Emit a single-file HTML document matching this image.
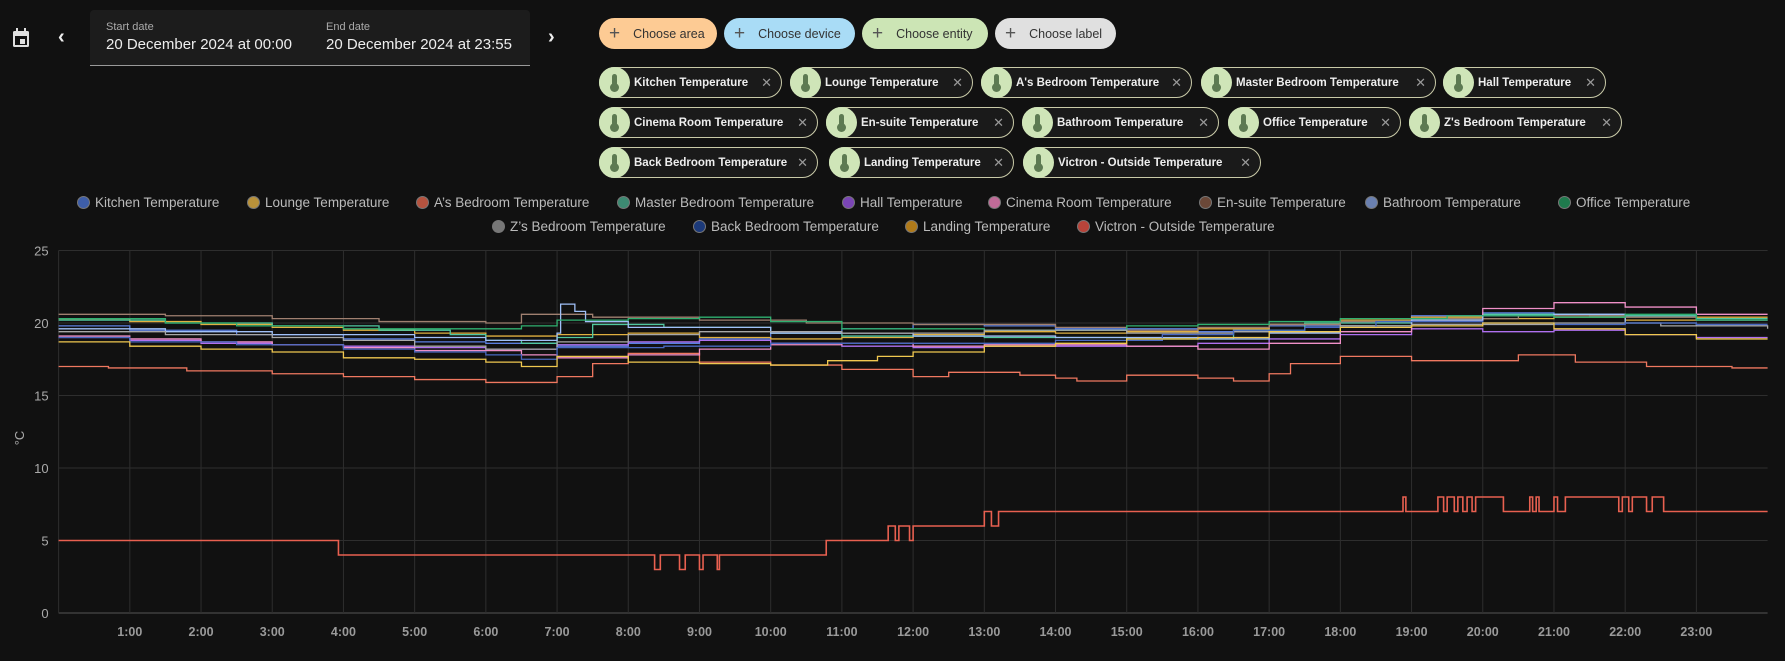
<!DOCTYPE html>
<html><head><meta charset="utf-8">
<style>
body{margin:0;width:1785px;height:661px;background:#111111;overflow:hidden;font-family:"Liberation Sans",sans-serif;position:relative;color:#e1e1e1}
.abs{position:absolute}
.btn{position:absolute;top:18px;height:31px;border-radius:16px;font-size:12.5px;color:#333;display:flex;align-items:center;box-sizing:border-box;padding-left:10px}
.btn .plus{font-size:19px;color:#555;margin-right:13px;font-weight:300}
.chip{position:absolute;height:31px;border:1px solid #c9caa8;border-radius:16px;box-sizing:border-box;background:#1a1a1a;display:flex;align-items:center;font-size:11.5px;font-weight:bold;color:#eee;white-space:nowrap}
.chip .ic{width:31px;height:31px;border-radius:50%;background:#cfe5b8;margin-left:-1px;margin-right:4px;position:relative;flex:none}
.chip .ic:before{content:"";position:absolute;left:13px;top:7px;width:5px;height:12px;background:#5d7a52;border-radius:3px}
.chip .ic:after{content:"";position:absolute;left:11px;top:16px;width:9px;height:9px;background:#5d7a52;border-radius:50%}
.chip .x{position:absolute;right:9px;color:#999;font-weight:normal;font-size:13px}
.leg{position:absolute;font-size:13.5px;color:#bbb;white-space:nowrap;display:flex;align-items:center}
.leg i{display:inline-block;width:13px;height:13px;border-radius:50%;margin-right:5px;border:1px solid #777;box-sizing:border-box}
</style></head><body>
<svg class="abs" style="left:11px;top:27px" width="20" height="22" viewBox="0 0 20 22"><rect x="2" y="4" width="16" height="16" rx="1.5" fill="#e0e0e0"/><rect x="4" y="9" width="12" height="9" fill="#111"/><rect x="9" y="12" width="5" height="5" fill="#e0e0e0"/><rect x="5" y="1" width="2" height="4" fill="#e0e0e0"/><rect x="13" y="1" width="2" height="4" fill="#e0e0e0"/></svg>
<div class="abs" style="left:58px;top:26px;font-size:20px;color:#eee;font-weight:bold">‹</div>
<div class="abs" style="left:90px;top:10px;width:440px;height:55px;background:#1c1c1c;border-bottom:1px solid #9a9a9a;border-radius:4px 4px 0 0"></div>
<div class="abs" style="left:106px;top:21px;font-size:11px;color:#aaa">Start date</div>
<div class="abs" style="left:106px;top:36px;font-size:15px;color:#eee">20 December 2024 at 00:00</div>
<div class="abs" style="left:326px;top:21px;font-size:11px;color:#aaa">End date</div>
<div class="abs" style="left:326px;top:36px;font-size:15px;color:#eee">20 December 2024 at 23:55</div>
<div class="abs" style="left:548px;top:26px;font-size:20px;color:#eee;font-weight:bold">›</div>

<div class="btn" style="left:599px;width:118px;background:#fdcb94"><span class="plus">+</span>Choose area</div>
<div class="btn" style="left:724px;width:131px;background:#a9dcf6"><span class="plus">+</span>Choose device</div>
<div class="btn" style="left:862px;width:126px;background:#cce5b5"><span class="plus">+</span>Choose entity</div>
<div class="btn" style="left:995px;width:121px;background:#e0e0e0"><span class="plus">+</span>Choose label</div>

<div class="chip" style="left:599px;top:67px;width:183px"><span class="ic"></span>Kitchen Temperature<span class="x">✕</span></div>
<div class="chip" style="left:790px;top:67px;width:183px"><span class="ic"></span>Lounge Temperature<span class="x">✕</span></div>
<div class="chip" style="left:981px;top:67px;width:211px"><span class="ic"></span>A's Bedroom Temperature<span class="x">✕</span></div>
<div class="chip" style="left:1201px;top:67px;width:235px"><span class="ic"></span>Master Bedroom Temperature<span class="x">✕</span></div>
<div class="chip" style="left:1443px;top:67px;width:163px"><span class="ic"></span>Hall Temperature<span class="x">✕</span></div>
<div class="chip" style="left:599px;top:107px;width:219px"><span class="ic"></span>Cinema Room Temperature<span class="x">✕</span></div>
<div class="chip" style="left:826px;top:107px;width:188px"><span class="ic"></span>En-suite Temperature<span class="x">✕</span></div>
<div class="chip" style="left:1022px;top:107px;width:197px"><span class="ic"></span>Bathroom Temperature<span class="x">✕</span></div>
<div class="chip" style="left:1228px;top:107px;width:173px"><span class="ic"></span>Office Temperature<span class="x">✕</span></div>
<div class="chip" style="left:1409px;top:107px;width:213px"><span class="ic"></span>Z's Bedroom Temperature<span class="x">✕</span></div>
<div class="chip" style="left:599px;top:147px;width:219px"><span class="ic"></span>Back Bedroom Temperature<span class="x">✕</span></div>
<div class="chip" style="left:829px;top:147px;width:185px"><span class="ic"></span>Landing Temperature<span class="x">✕</span></div>
<div class="chip" style="left:1023px;top:147px;width:238px"><span class="ic"></span>Victron - Outside Temperature<span class="x">✕</span></div>

<div id="legend"></div>
<svg id="chart" class="abs" style="left:0;top:0" width="1785" height="661"></svg>

<script>
const names=["Kitchen Temperature","Lounge Temperature","A’s Bedroom Temperature","Master Bedroom Temperature","Hall Temperature","Cinema Room Temperature","En-suite Temperature","Bathroom Temperature","Office Temperature","Z’s Bedroom Temperature","Back Bedroom Temperature","Landing Temperature","Victron - Outside Temperature"];
const legendColors=["#3e5ea8","#b8913a","#b5533f","#3d8a72","#7a45b5","#c06b98","#6b4838","#6a80b0","#1f7a4d","#777777","#1c3a7a","#b07a1a","#b8443a"];
const lineColors=["#5b7fe0","#e0b040","#f07860","#50c8a0","#b070f0","#f090c8","#a08070","#a0c0f8","#30b070","#a8a8a8","#4868c0","#f0c850","#e86050"];
const legendX=[77,247,416,617,842,988,1199,1365,1558,492,693,905,1077];
const legendRow=[0,0,0,0,0,0,0,0,0,1,1,1,1];

const kitchenT=[0,1,2.5,4,5,6,7,8,9,10,11,12,13,14,15,16,17,18,19,20,21,22,23,24];
const kitchenV=[19.8,19.5,19.2,18.9,18.7,18.6,18.4,18.6,18.9,19.3,19.6,19.9,19.8,19.6,19.6,19.4,19.8,20.1,20.5,20.7,20.6,20.5,20.2,20.2];
const loungeT=[0,1,2,3,4,5,6,7,8,9,10,11,12,13,14,15,16,17,18,19,20,21,22,23,24];
const loungeV=[20.3,20.1,19.9,19.7,19.5,19.3,19.1,19.2,19.3,19.0,18.9,19.0,19.2,19.4,19.3,19.4,19.6,19.9,20.2,20.4,20.3,20.4,20.2,20.4,20.4];
const asT=[0,0.7,1.8,3,4,5,6,7,7.5,8,9,10,11,12,12.5,13.5,14,14.3,15,16,16.5,17,17.3,18,19,20.5,21.3,22.3,23.5,24];
const asV=[17.0,16.9,16.7,16.5,16.3,16.1,15.9,16.3,17.2,17.9,17.3,17.1,16.8,16.3,16.6,16.4,16.2,16.0,16.4,16.2,16.0,16.5,17.2,17.7,17.4,17.8,17.3,17.0,16.9,16.9];
const masterT=[0,1.5,3,4.5,5.5,6,6.5,7,7.5,8.5,10,11,13,15,16.5,17.5,19,20,21.5,23,24];
const masterV=[20.2,20.0,19.8,19.5,19.2,18.8,18.6,19.0,19.9,19.7,19.3,19.1,19.0,18.9,19.5,20.0,20.3,20.6,20.5,20.3,20.3];
const hallT=[0,1,2,3,4,5,6,7,8,9,10,11,12,13,15,16,17,18,19,20,21,22,23,24];
const hallV=[19.0,18.8,18.6,18.5,18.4,18.3,18.2,18.5,18.7,18.8,18.6,18.4,18.3,18.4,18.4,18.6,18.9,19.2,19.6,19.4,19.5,19.2,19.0,19.0];
const cinemaT=[0,1,2,3,4,5,6.5,7,8,9,10,11,12,13,15,16,17,18,19,20,21,22,23,24];
const cinemaV=[19.1,18.9,18.7,18.5,18.3,18.1,17.8,17.6,17.8,18.2,18.5,18.6,18.4,18.5,18.4,18.2,18.6,19.4,20.2,21.0,21.4,21.1,20.6,20.6];
const ensuiteT=[0,1.5,3,4.5,6,6.5,7.5,9,10.5,12,14,15,16,17,18,19,20.5,22,23,24];
const ensuiteV=[20.6,20.5,20.3,20.1,20.0,20.6,20.4,20.2,20.0,19.9,19.7,19.5,19.7,19.9,20.1,20.3,20.5,20.4,20.2,20.2];
const bathT=[0,1.5,3,5,6,7,7.05,7.25,7.4,8,10,12,14,16,17,18,19,20,21,22,23,24];
const bathV=[19.6,19.4,19.2,19.0,18.8,19.3,21.3,20.8,20.1,19.7,19.3,19.1,19.0,18.9,19.3,19.8,20.2,20.5,20.6,20.0,19.8,19.8];
const officeT=[0,1.5,2.5,4,5.5,6.5,7,8,9,10,11,13,15,16,17,18,19.5,21,22,23,24];
const officeV=[20.3,20.0,19.8,19.6,19.6,19.8,20.2,20.3,20.4,20.1,19.6,19.5,19.8,19.9,20.1,20.3,20.5,20.4,20.6,20.2,20.2];
const zsT=[0,1.5,3,4,5,6,7,8,9,11,13,15,16.5,18,19,21,22.5,24];
const zsV=[19.4,19.2,19.0,18.8,18.4,18.2,18.7,19.2,19.4,19.3,19.5,19.3,19.4,19.8,19.9,20.0,19.8,19.6];
const backT=[0,1,2.5,4,5,6,6.5,7,8.5,10,12,14,15.5,16.5,17.5,18.5,20,21,22,23,24];
const backV=[19.0,18.7,18.5,18.2,18.0,17.8,17.5,18.3,18.4,18.6,18.6,18.8,19.2,19.5,19.7,20.1,20.0,19.9,20.0,19.9,19.9];
const landingT=[0,1,2,3,4,5,6,6.5,7,8,9,10,10.8,11.5,12,13,14,15,16,17,18,19,20,21,22,23,24];
const landingV=[18.7,18.4,18.2,18.0,17.6,17.5,17.3,17.0,17.7,17.3,17.2,17.1,17.4,17.7,18.0,18.4,18.6,18.9,19.0,19.4,19.7,19.8,20.0,19.6,19.2,18.9,18.9];
const victronT=[0,3.93,8.37,8.45,8.72,8.8,9.0,9.05,9.25,9.28,10.78,11.65,11.75,11.8,11.95,12.0,13.0,13.1,13.2,18.88,18.92,19.37,19.45,19.5,19.6,19.65,19.72,19.78,19.85,19.9,20.12,20.29,20.66,20.7,20.75,20.79,21.0,21.05,21.16,21.91,21.96,22.05,22.1,22.3,22.38,22.54,24];
const victronV=[5,4,3,4,3,4,3,4,3,4,5,6,5,6,5,6,7,6,7,8,7,8,7,8,7,8,7,8,7,8,8,7,8,7,8,7,8,7,8,7,8,7,8,7,8,7,7];

const seriesT=[kitchenT,loungeT,asT,masterT,hallT,cinemaT,ensuiteT,bathT,officeT,zsT,backT,landingT,victronT];
const seriesV=[kitchenV,loungeV,asV,masterV,hallV,cinemaV,ensuiteV,bathV,officeV,zsV,backV,landingV,victronV];
const yTicks=[0,5,10,15,20,25];
const xTicks=["1:00","2:00","3:00","4:00","5:00","6:00","7:00","8:00","9:00","10:00","11:00","12:00","13:00","14:00","15:00","16:00","17:00","18:00","19:00","20:00","21:00","22:00","23:00"];

const X0=58.6,X1=1767.6,Y0=613,YS=14.5;
const xs=h=>X0+(X1-X0)*h/24;
const ys=v=>Y0-v*YS;
const NS="http://www.w3.org/2000/svg";
const svg=document.getElementById('chart');
function mk(tag,attrs){const e=document.createElementNS(NS,tag);for(const k in attrs)e.setAttribute(k,attrs[k]);svg.appendChild(e);return e;}

yTicks.forEach(v=>{
  const l=mk('line',{x1:X0,x2:X1,y1:ys(v),y2:ys(v),stroke:v===0?'#555':'#2e2e2e','stroke-width':1});
  
  
  const t=mk('text',{x:X0-10,y:ys(v)+5,'text-anchor':'end','font-size':13,fill:'#aaa','font-family':'Liberation Sans, sans-serif'});
  t.textContent=v;
  
  
});
const ax=mk('line',{x1:X0,x2:X0,y1:ys(25),y2:Y0,stroke:'#2e2e2e'});


xTicks.forEach((lab,i)=>{
  const x=xs(i+1);
  const l=mk('line',{x1:x,x2:x,y1:ys(25),y2:Y0,stroke:'#2e2e2e'});
  
  
  const t=mk('text',{x:x,y:636,'text-anchor':'middle','font-size':12.5,'font-weight':'bold',fill:'#9a9a9a','font-family':'Liberation Sans, sans-serif'});
  t.textContent=lab;
  
  
});
const yt=mk('text',{x:24,y:438,'text-anchor':'middle','font-size':13,fill:'#aaa',transform:'rotate(-90 24 438)','font-family':'Liberation Sans, sans-serif'});
yt.textContent='°C';



seriesT.forEach((T,s)=>{
  const V=seriesV[s];
  let d='M'+xs(T[0])+','+ys(V[0]);
  for(let i=1;i<T.length;i++){d+=' H'+xs(T[i])+' V'+ys(V[i]);}
  const p=mk('path',{d:d,fill:'none',stroke:lineColors[s],'stroke-width':s===12?1.6:1.3});
  
  
});

const lg=document.getElementById('legend');
names.forEach((n,i)=>{
  const d=document.createElement('div');
  d.className='leg';
  d.style.left=legendX[i]+'px';
  d.style.top=(legendRow[i]?219:195)+'px';
  d.innerHTML='<i style="background:'+legendColors[i]+'"></i>'+n;
  
  
  lg.appendChild(d);
});
</script>
</body></html>
